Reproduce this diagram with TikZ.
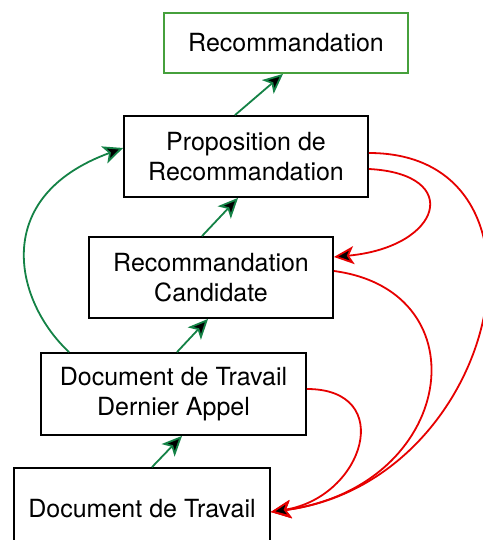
\documentclass[tikz,border=0pt]{standalone}
\usepackage{fontspec}
\setmainfont{TeX Gyre Heros}
\usetikzlibrary{arrows.meta}
\definecolor{vertfleche}{RGB}{20,130,70}
\definecolor{vertcadre}{RGB}{70,160,60}
\definecolor{rouge}{RGB}{230,0,0}
\tikzset{
    etape/.style={draw=black,line width=1.8pt,align=center,inner sep=0pt,font=\fontsize{25}{30}\selectfont},
    pointe/.style={-{Stealth[length=20pt,width=18pt,inset=5pt,fill=black]}},
    monte/.style={draw=vertfleche,line width=1.8pt,pointe},
    retour/.style={draw=rouge,line width=1.8pt,pointe},
  }

\begin{document}
\begin{tikzpicture}[x=1pt,y=1pt]
  \useasboundingbox (0,0) rectangle (482,540);

  %ETAPES
  \node[etape,draw=vertcadre,minimum width=244pt,minimum height=60pt](rec) at (286,497) {Recommandation};
  \node[etape,minimum width=244pt,minimum height=81pt](prop) at (246,383.5) {Proposition de\\Recommandation};
  \node[etape,minimum width=244pt,minimum height=81pt](cand) at (211,262.5) {Recommandation\\Candidate};
  \node[etape,minimum width=265pt,minimum height=82pt](dernier) at (173.5,146) {Document de Travail\\Dernier Appel};
  \node[etape,minimum width=256pt,minimum height=82pt](travail) at (142,31) {Document de Travail};

  %FLECHES VERTES
  \draw[monte] ([xshift=10pt]travail.north) -- ([xshift=8.5pt]dernier.south);
  \draw[monte] ([xshift=3.5pt]dernier.north) -- ([xshift=-3pt]cand.south);
  \draw[monte] ([xshift=-9pt]cand.north) -- ([xshift=-8pt]prop.south);
  \draw[monte] ([xshift=-11pt]prop.north) -- ([xshift=-3pt]rec.south);
  \draw[monte] ([xshift=29pt]dernier.north west) .. controls +(-54,50) and +(-134,-49) .. ([yshift=8.5pt]prop.west);

  %FLECHES ROUGES
  \draw[retour] ([yshift=3.5pt]prop.east) .. controls +(200,0) and +(230,30) .. ([yshift=-3pt]travail.east);
  \draw[retour] ([yshift=-12.5pt]prop.east) .. controls +(95,-5) and +(108,10) .. ([yshift=20.5pt]cand.east);
  \draw[retour] ([yshift=6.5pt]cand.east) .. controls +(150,-20) and +(185,25) .. ([yshift=-3pt]travail.east);
  \draw[retour] ([yshift=5pt]dernier.east) .. controls +(90,0) and +(93,15) .. ([yshift=-3pt]travail.east);
\end{tikzpicture}
\end{document}
